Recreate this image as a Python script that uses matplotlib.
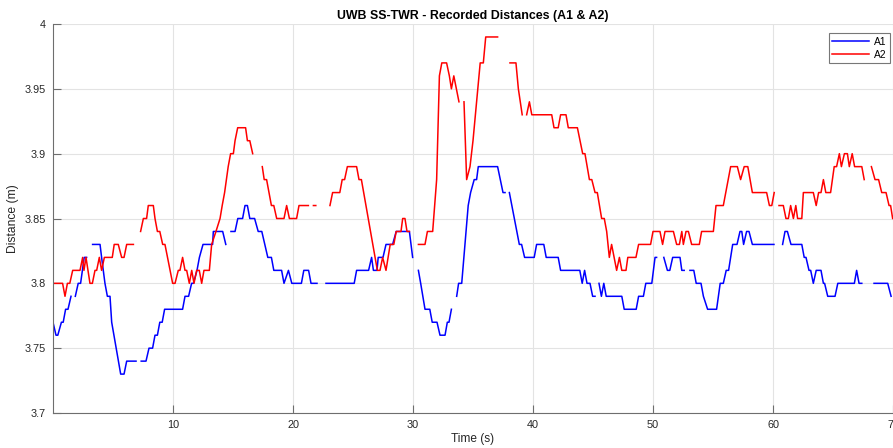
import numpy as np
import matplotlib
matplotlib.use("Agg")
import matplotlib.pyplot as plt

plt.rcParams['font.family'] = ['Liberation Sans', 'DejaVu Sans']

nan = np.nan

# A1 (blue) - vertices, nan = gap in the recording
a1_t = [0.0, 0.25, 0.4, 0.7, 0.85, 1.05, 1.25, 1.5, nan,
        1.86, 2.1, 2.3, 2.45, 2.6, 2.8, nan,
        3.3, 3.92, 4.05, 4.33, 4.53, 4.75, 4.89, 5.64, 5.92, 6.14, 6.92, nan,
        7.35, 7.75, 8.0, 8.3, 8.5, 8.7, 8.9, 9.1, 9.3, 10.8, 11.0, 11.3, 11.55, 11.7,
        12.0, 12.2, 12.5, 13.3, 13.36, 14.14, 14.4, nan,
        14.83, 15.17, 15.4, 15.8, 16.0, 16.2, 16.4, 16.8, 17.1, 17.4, 17.65, 17.9, 18.2,
        18.4, 19.05, 19.25, 19.62, 19.9, 20.7, 20.9, 21.3, 21.5, 22.0, nan,
        22.75, 25.1, 25.3, 26.3, 26.55, 26.7, 27.0, 27.1, 27.5, 27.75, 28.3, 28.6, 29.7, 29.97, nan,
        30.45, 30.64, 31.0, 31.4, 31.6, 32.0, 32.25, 32.67, 32.86, 33.0, 33.2, nan,
        33.64, 33.8, 34.06, 34.6, 34.8, 35.1, 35.3, 35.44, 37.05, 37.5, 37.67, nan,
        38.03, 38.86, 39.05, 39.3, 40.1, 40.3, 40.9, 41.1, 42.1, 42.3, 43.9, 44.1, 44.3,
        44.5, 44.75, 44.97, 45.17, nan,
        45.5, 45.7, 45.9, 46.1, 47.4, 47.6, 48.6, 48.8, 49.2, 49.4, 49.9, 50.17, 50.3, nan,
        50.9, 51.2, 51.4, 51.64, 52.25, 52.4, 52.6, nan,
        53.08, 53.4, 53.6, 54.0, 54.2, 54.55, 55.3, 55.6, 55.86, 56.1, 56.3, 56.64, 57.0,
        57.25, 57.4, 57.55, 57.8, 58.0, 58.28, 60.08, nan,
        60.8, 61.0, 61.2, 61.5, 62.4, 62.6, 62.75, 63.0, 63.14, 63.36, 63.6, 64.0, 64.2,
        64.3, 64.56, 65.17, 65.4, 66.78, 66.97, 67.17, 67.4, nan,
        68.42, 69.56, 69.84]
a1_d = [3.77, 3.76, 3.76, 3.77, 3.77, 3.78, 3.78, 3.79, nan,
        3.79, 3.80, 3.80, 3.81, 3.82, 3.82, nan,
        3.83, 3.83, 3.82, 3.80, 3.79, 3.79, 3.77, 3.73, 3.73, 3.74, 3.74, nan,
        3.74, 3.74, 3.75, 3.75, 3.76, 3.76, 3.77, 3.77, 3.78, 3.78, 3.79, 3.79, 3.80, 3.80,
        3.81, 3.82, 3.83, 3.83, 3.84, 3.84, 3.83, nan,
        3.84, 3.84, 3.85, 3.85, 3.86, 3.86, 3.85, 3.85, 3.84, 3.84, 3.83, 3.82, 3.82,
        3.81, 3.81, 3.80, 3.81, 3.80, 3.80, 3.81, 3.81, 3.80, 3.80, nan,
        3.80, 3.80, 3.81, 3.81, 3.82, 3.81, 3.81, 3.82, 3.82, 3.83, 3.83, 3.84, 3.84, 3.82, nan,
        3.81, 3.80, 3.78, 3.78, 3.77, 3.77, 3.76, 3.76, 3.77, 3.77, 3.78, nan,
        3.79, 3.80, 3.80, 3.86, 3.87, 3.88, 3.88, 3.89, 3.89, 3.87, 3.87, nan,
        3.87, 3.83, 3.83, 3.82, 3.82, 3.83, 3.83, 3.82, 3.82, 3.81, 3.81, 3.80, 3.81,
        3.80, 3.80, 3.79, 3.79, nan,
        3.80, 3.79, 3.80, 3.79, 3.79, 3.78, 3.78, 3.79, 3.79, 3.80, 3.80, 3.82, 3.82, nan,
        3.82, 3.81, 3.81, 3.82, 3.82, 3.81, 3.81, nan,
        3.81, 3.81, 3.80, 3.80, 3.79, 3.78, 3.78, 3.80, 3.80, 3.81, 3.81, 3.83, 3.83,
        3.84, 3.84, 3.83, 3.84, 3.84, 3.83, 3.83, nan,
        3.83, 3.84, 3.84, 3.83, 3.83, 3.82, 3.82, 3.81, 3.81, 3.80, 3.81, 3.81, 3.80,
        3.80, 3.79, 3.79, 3.80, 3.80, 3.81, 3.80, 3.80, nan,
        3.80, 3.80, 3.79]

# A2 (red)
a2_t = [0.03, 0.8, 1.0, 1.2, 1.4, 1.64, 2.25, 2.47, 2.58, 2.75, 3.08, 3.28, 3.5, 3.64,
        3.86, 4.05, 4.28, 4.94, 5.1, 5.44, 5.72, 5.92, 6.14, 6.7, nan,
        7.3, 7.53, 7.8, 7.94, 8.36, 8.5, 8.7, 8.9, 9.14, 9.33, 9.97, 10.17, 10.44, 10.58,
        10.8, 11.0, 11.14, 11.36, 11.56, 11.75, 11.97, 12.19, 12.39, 12.58, 13.03, 13.22,
        13.58, 13.92, 14.1, 14.3, 14.45, 14.6, 14.8, 15.03, 15.17, 15.39, 16.05, 16.2,
        16.4, 16.64, nan,
        17.44, 17.6, 17.8, 18.0, 18.2, 18.4, 18.64, 19.25, 19.47, 19.7, 20.3, 20.5, 21.28, nan,
        21.7, 21.9, nan,
        23.08, 23.3, 23.9, 24.1, 24.3, 24.53, 25.3, 25.5, 25.7, 27.03, 27.25, 27.47, 27.75,
        28.1, 28.4, 28.6, 29.0, 29.14, 29.33, 29.5, 29.7, nan,
        30.45, 31.0, 31.2, 31.64, 31.97, 32.2, 32.4, 32.8, 33.03, 33.2, 33.4, 33.83, nan,
        34.25, 34.47, 34.75, 35.0, 35.6, 35.86, 36.06, 37.05, nan,
        38.08, 38.58, 38.78, 39.1, nan,
        39.47, 39.7, 39.9, 41.56, 41.75, 42.1, 42.3, 42.75, 42.94, 43.7, 44.14, 44.33, 44.7,
        44.9, 45.17, 45.36, 45.72, 45.94, 46.14, 46.36, 46.55, 46.97, 47.2, 47.4, 47.75,
        47.9, 48.58, 48.8, 49.8, 50.0, 50.58, 50.8, 51.0, 51.7, 51.97, 52.2, 52.4, 52.53,
        52.75, 52.95, 53.22, 53.86, 54.05, 55.03, 55.25, 55.86, 56.47, 57.03, 57.3, 57.6,
        57.9, 58.28, 59.47, 59.7, 59.9, 60.1, nan,
        60.5, 60.86, 61.08, 61.28, 61.47, 61.7, 61.9, 62.05, 62.4, 62.53, 63.36, 63.6, 63.8,
        64.0, 64.2, 64.4, 64.8, 65.1, 65.3, 65.53, 65.7, 65.95, 66.2, 66.36, 66.6, 66.8,
        67.4, 67.6, nan,
        68.2, 68.5, 68.8, 69.06, 69.42, 69.67, 69.8, 69.97]
a2_d = [3.80, 3.80, 3.79, 3.80, 3.80, 3.81, 3.81, 3.82, 3.81, 3.82, 3.80, 3.80, 3.81, 3.81,
        3.82, 3.81, 3.82, 3.82, 3.83, 3.83, 3.82, 3.82, 3.83, 3.83, nan,
        3.84, 3.85, 3.85, 3.86, 3.86, 3.85, 3.84, 3.84, 3.83, 3.83, 3.80, 3.80, 3.81, 3.81,
        3.82, 3.81, 3.81, 3.80, 3.81, 3.80, 3.81, 3.81, 3.80, 3.81, 3.81, 3.83,
        3.84, 3.85, 3.86, 3.87, 3.88, 3.89, 3.90, 3.90, 3.91, 3.92, 3.92, 3.91,
        3.91, 3.90, nan,
        3.89, 3.88, 3.88, 3.87, 3.86, 3.86, 3.85, 3.85, 3.86, 3.85, 3.85, 3.86, 3.86, nan,
        3.86, 3.86, nan,
        3.86, 3.87, 3.87, 3.88, 3.88, 3.89, 3.89, 3.88, 3.88, 3.81, 3.81, 3.82, 3.81,
        3.83, 3.83, 3.84, 3.84, 3.85, 3.85, 3.84, 3.84, nan,
        3.83, 3.83, 3.84, 3.84, 3.88, 3.96, 3.97, 3.97, 3.96, 3.95, 3.96, 3.94, nan,
        3.94, 3.88, 3.89, 3.91, 3.97, 3.97, 3.99, 3.99, nan,
        3.97, 3.97, 3.95, 3.93, nan,
        3.93, 3.94, 3.93, 3.93, 3.92, 3.92, 3.93, 3.93, 3.92, 3.92, 3.90, 3.90, 3.88,
        3.88, 3.87, 3.87, 3.85, 3.85, 3.84, 3.82, 3.83, 3.81, 3.82, 3.81, 3.81,
        3.82, 3.82, 3.83, 3.83, 3.84, 3.84, 3.83, 3.84, 3.84, 3.83, 3.83, 3.84, 3.83,
        3.84, 3.84, 3.83, 3.83, 3.84, 3.84, 3.86, 3.86, 3.89, 3.89, 3.88, 3.89,
        3.89, 3.87, 3.87, 3.86, 3.86, 3.87, nan,
        3.86, 3.86, 3.85, 3.85, 3.86, 3.85, 3.86, 3.85, 3.85, 3.87, 3.87, 3.86, 3.87,
        3.87, 3.88, 3.87, 3.87, 3.89, 3.89, 3.90, 3.89, 3.90, 3.90, 3.89, 3.90, 3.89,
        3.89, 3.88, nan,
        3.89, 3.88, 3.88, 3.87, 3.87, 3.86, 3.86, 3.85]

x_ticks = [10, 20, 30, 40, 50, 60, 70]
y_ticks = [3.7, 3.75, 3.8, 3.85, 3.9, 3.95, 4.0]
y_tick_labels = ['3.7', '3.75', '3.8', '3.85', '3.9', '3.95', '4']

fig = plt.figure(figsize=(8.93, 4.48), dpi=100)
ax = fig.add_axes([53 / 893, 1 - 413 / 448, 1 - 53 / 893, (413 - 24) / 448])

ax.plot(a1_t, a1_d, color='#0000ff', lw=1.1, label='A1')
ax.plot(a2_t, a2_d, color='#ff0000', lw=1.1, label='A2')

ax.set_xlim(0, 70)
ax.set_ylim(3.7, 4.0)
ax.set_xticks(x_ticks)
ax.set_yticks(y_ticks)
ax.set_yticklabels(y_tick_labels)
ax.grid(True, color='#e3e3e3', lw=0.8)
ax.set_axisbelow(True)

for s in ['top', 'right']:
    ax.spines[s].set_visible(False)
for s in ['left', 'bottom']:
    ax.spines[s].set_color('#6e6e6e')
    ax.spines[s].set_linewidth(0.8)
ax.tick_params(direction='in', length=6, width=0.8, color='#6e6e6e',
               labelsize=7.8, labelcolor='#262626', pad=5)

ax.set_title('UWB SS-TWR - Recorded Distances (A1 & A2)', fontsize=8.9,
             fontweight='bold', pad=3.5)
ax.set_xlabel('Time (s)', fontsize=8.6, color='#262626', labelpad=2.5)
ax.set_ylabel('Distance (m)', fontsize=8.7, color='#262626', labelpad=4)

leg = ax.legend(loc='upper right', bbox_to_anchor=(0.997, 0.977), fontsize=7.4,
                fancybox=False, handlelength=3.6, handletextpad=0.5,
                labelspacing=0.3, borderpad=0.35, borderaxespad=0)
leg.get_frame().set_edgecolor('#555555')
leg.get_frame().set_linewidth(0.8)

fig.savefig('out.png', dpi=100)
